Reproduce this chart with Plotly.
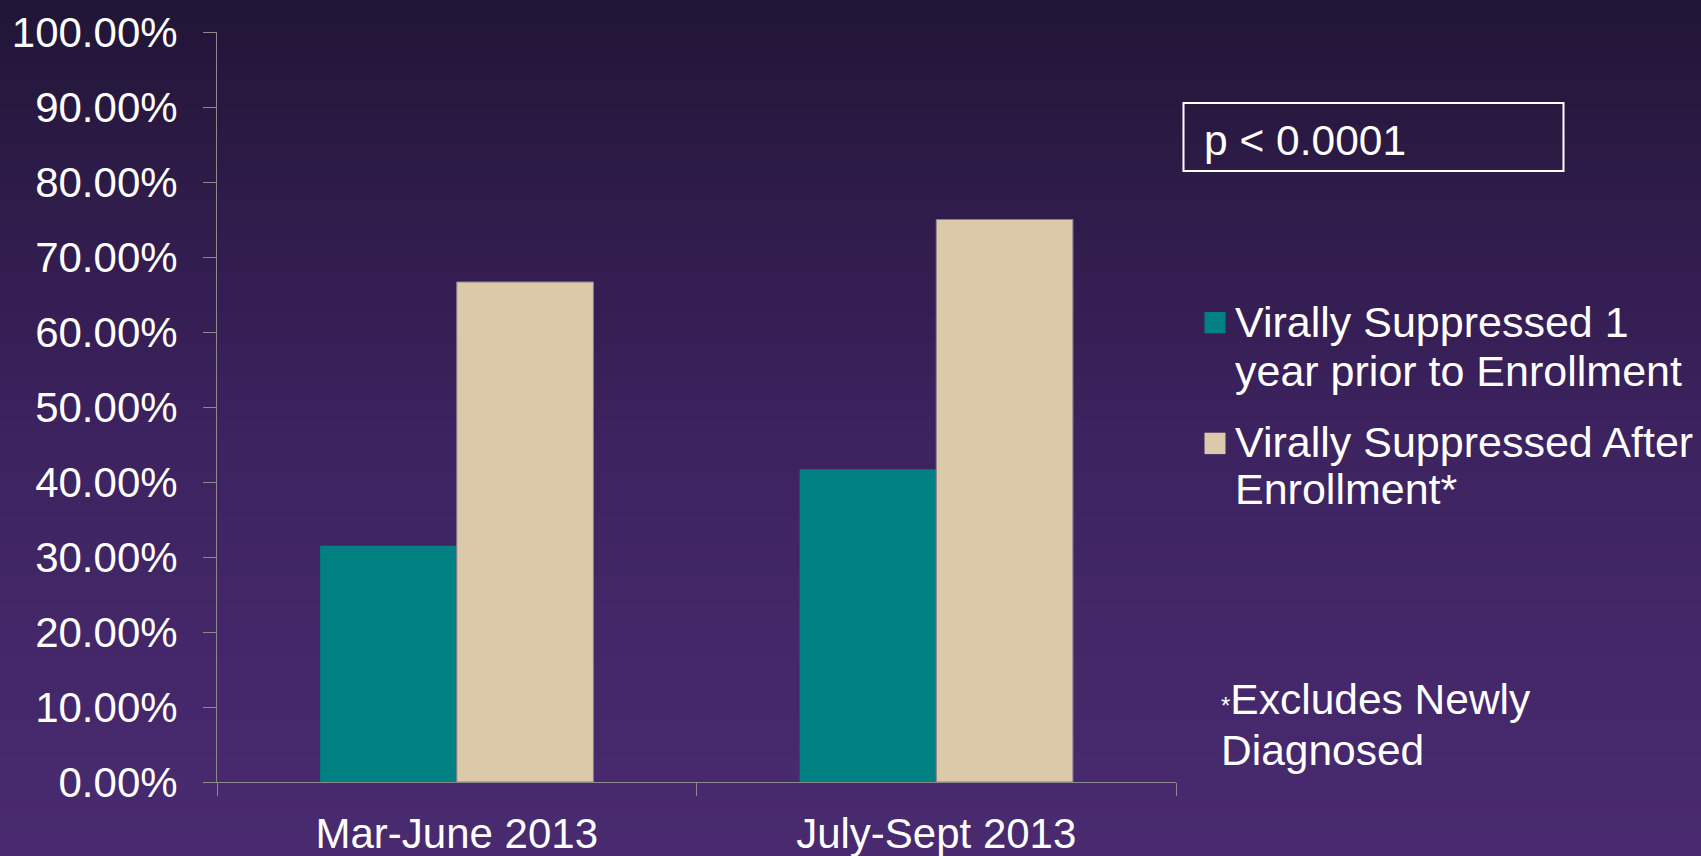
import plotly.graph_objects as go

# ---------------- data ----------------
categories = ["Mar-June 2013", "July-Sept 2013"]
series_names = ["Virally Suppressed 1 year prior to Enrollment",
                "Virally Suppressed After Enrollment*"]
prior_values = [0.315, 0.417]
after_values = [0.6667, 0.75]
series_colors = ["#008080", "#DCC9AA"]
legend_lines = [["Virally Suppressed 1", "year prior to Enrollment"],
                ["Virally Suppressed After", "Enrollment*"]]
p_text = "p < 0.0001"
footnote_lines = ["<span style='font-size:24px'>*</span>Excludes Newly", "Diagnosed"]

# ---------------- layout geometry (pixels) ----------------
W, H = 1701, 856
L, R, T, B = 217, 525, 32, 74
PW, PH = W - L - R, H - T - B
FONT = "Liberation Sans, Arial, sans-serif"
AXIS_COLOR = "#8c8a8c"


def px(x):
    return (x - L) / PW


def py(y):
    return (H - B - y) / PH


fig = go.Figure()
fig.add_trace(go.Bar(x=categories, y=prior_values, name=series_names[0],
                     marker=dict(color=series_colors[0], line=dict(width=0)),
                     showlegend=False))
fig.add_trace(go.Bar(x=categories, y=after_values, name=series_names[1],
                     marker=dict(color=series_colors[1],
                                 line=dict(width=1, color="#8a7d8e")),
                     showlegend=False))

shapes = []
# vertical background gradient (bands)
stops = [(0, (33, 21, 54)), (180, (45, 27, 71)), (300, (53, 30, 83)),
         (450, (61, 35, 96)), (620, (67, 39, 104)), (856, (73, 42, 112))]


def col_at(y):
    for (y0, c0), (y1, c1) in zip(stops[:-1], stops[1:]):
        if y0 <= y <= y1:
            t = (y - y0) / (y1 - y0)
            return "rgb(%d,%d,%d)" % tuple(round(a + (b - a) * t) for a, b in zip(c0, c1))
    return "rgb(%d,%d,%d)" % stops[-1][1]


band = 6
for y0 in range(0, H, band):
    shapes.append(dict(type="rect", xref="paper", yref="paper", layer="below",
                       x0=px(-2), x1=px(W + 2), y0=py(y0 + band + 1), y1=py(y0 - 1 if y0 else -2),
                       fillcolor=col_at(y0 + band / 2), line=dict(width=0)))

# p-value box
shapes.append(dict(type="rect", xref="paper", yref="paper",
                   x0=px(1183.5), x1=px(1563.5), y0=py(171), y1=py(103),
                   line=dict(color="white", width=2), fillcolor="rgba(0,0,0,0)"))

annotations = [dict(xref="paper", yref="paper", x=px(1203), y=py(140.5),
                    xanchor="left", yanchor="middle", text=p_text, showarrow=False,
                    borderpad=0, font=dict(size=42.5, color="white", family=FONT))]

# custom legend
sq_tops = [312, 432.7]
line_centers = [[321.7, 370.8], [442, 489]]
for i in range(2):
    shapes.append(dict(type="rect", xref="paper", yref="paper",
                       x0=px(1204.5), x1=px(1225.5), y0=py(sq_tops[i] + 21.4), y1=py(sq_tops[i]),
                       fillcolor=series_colors[i], line=dict(width=0)))
    for txt, yc in zip(legend_lines[i], line_centers[i]):
        annotations.append(dict(xref="paper", yref="paper", x=px(1234), y=py(yc),
                                xanchor="left", yanchor="middle", text=txt, showarrow=False,
                                borderpad=0, font=dict(size=43, color="white", family=FONT)))

for txt, yc in zip(footnote_lines, [699, 750]):
    annotations.append(dict(xref="paper", yref="paper", x=px(1220), y=py(yc),
                            xanchor="left", yanchor="middle", text=txt, showarrow=False,
                            borderpad=0, font=dict(size=42.5, color="white", family=FONT)))

fig.update_layout(
    width=W, height=H,
    margin=dict(l=L, r=R, t=T, b=B, pad=0, autoexpand=False),
    paper_bgcolor="rgb(55,31,85)",
    plot_bgcolor="rgba(0,0,0,0)",
    barmode="group", bargap=0.43, bargroupgap=0,
    shapes=shapes, annotations=annotations,
    showlegend=False,
    font=dict(family=FONT, color="white"),
    xaxis=dict(type="category", tickson="boundaries", ticks="outside", ticklen=13,
               tickcolor=AXIS_COLOR, tickwidth=1, showline=True, linecolor=AXIS_COLOR,
               linewidth=1, showgrid=False, tickfont=dict(size=42, color="white", family=FONT),
               ticklabelstandoff=15, fixedrange=True, automargin=False),
    yaxis=dict(range=[0, 1], dtick=0.1, tick0=0, tickformat=".2%", ticks="outside",
               ticklen=13, tickcolor=AXIS_COLOR, tickwidth=1, showline=True,
               linecolor=AXIS_COLOR, linewidth=1, showgrid=False, zeroline=False,
               tickfont=dict(size=42, color="white", family=FONT),
               ticklabelstandoff=17, fixedrange=True, automargin=False),
)

fig.write_html("out.html", config={"displayModeBar": False},
               post_script="document.body.style.margin='0';document.body.style.padding='0';"
                           "document.body.style.overflow='hidden';")
